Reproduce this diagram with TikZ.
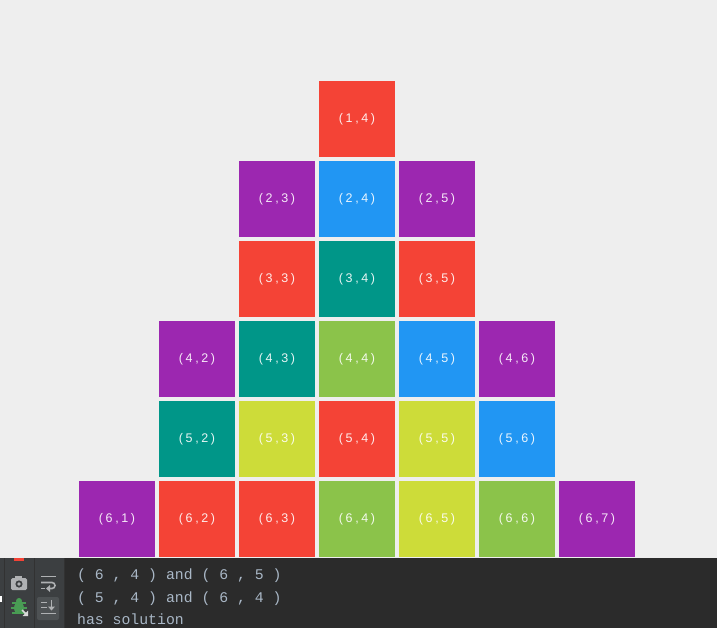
\documentclass[tikz,border=0pt]{standalone}
\usepackage{fontspec}
\newfontfamily\boxfont{Liberation Sans}
\newfontfamily\termfont{Liberation Mono}
\definecolor{bgc}{HTML}{EEEEEE}
\definecolor{cred}{HTML}{F44336}
\definecolor{cpur}{HTML}{9C27B0}
\definecolor{cblu}{HTML}{2196F3}
\definecolor{ctea}{HTML}{009688}
\definecolor{cgrn}{HTML}{8BC34A}
\definecolor{clim}{HTML}{CDDC39}
\definecolor{term}{HTML}{2B2B2B}
\definecolor{tbar}{HTML}{3C3F41}
\definecolor{tsep}{HTML}{323232}
\definecolor{ttext}{HTML}{A9B7C6}
\definecolor{icon}{HTML}{AFB1B3}
\definecolor{bugc}{HTML}{499C54}
\definecolor{hilite}{HTML}{4E5254}
\newcommand{\cellsp}{\hspace{2.6pt}}
\tikzset{
  cell/.style={minimum width=76pt, minimum height=76pt, inner sep=0pt, draw=none,
    text=white, text opacity=0.9, font=\boxfont\fontsize{12.5}{14}\selectfont},
  termline/.style={anchor=base west, inner sep=0pt, text=ttext,
    font=\termfont\fontsize{14.8}{17}\selectfont},
  ico/.style={draw=icon, line width=1.6pt}
}
\begin{document}
\begin{tikzpicture}[x=1pt,y=-1pt]
\useasboundingbox (0,0) rectangle (717,628);
\fill[bgc] (0,0) rectangle (717,558);
\fill[term] (0,558) rectangle (717,628);
\fill[tbar] (0,558) rectangle (64,628);
\draw[tsep, line width=1pt] (4,558) -- (4,628);
\draw[tsep, line width=1pt] (34,558) -- (34,628);
\draw[tsep, line width=1pt] (64,558) -- (64,628);
\fill[cred] (14,558) rectangle (24,561);
\fill[white] (0,596) rectangle (2,602);
% cells
\foreach \r/\c/\col in {
  1/4/cred,
  2/3/cpur, 2/4/cblu, 2/5/cpur,
  3/3/cred, 3/4/ctea, 3/5/cred,
  4/2/cpur, 4/3/ctea, 4/4/cgrn, 4/5/cblu, 4/6/cpur,
  5/2/ctea, 5/3/clim, 5/4/cred, 5/5/clim, 5/6/cblu,
  6/1/cpur, 6/2/cred, 6/3/cred, 6/4/cgrn, 6/5/clim, 6/6/cgrn, 6/7/cpur}
{
  \node[cell, fill=\col] (n\r\c) at ({117+(\c-1)*80},{119+(\r-1)*80}) {(\cellsp\r\cellsp,\cellsp\c\cellsp)};
}
% terminal text
\node[termline] (t1) at (77,579) {( 6 , 4 ) and ( 6 , 5 )};
\node[termline] (t2) at (77,602) {( 5 , 4 ) and ( 6 , 4 )};
\node[termline] (t3) at (77,624) {has solution};
% camera icon
\fill[icon, rounded corners=1.5pt] (11,578) rectangle (27,590);
\fill[icon] (15,575.5) rectangle (22,579);
\fill[tbar] (19,584) circle (3.6);
\fill[icon] (19,584) circle (1.8);
% wrap icon
\draw[ico] (41,576.5) -- (56,576.5);
\draw[ico] (41,582.5) -- (52,582.5) arc (-90:90:3) -- (49,588.5);
\draw[ico] (41,588.5) -- (45,588.5);
\fill[icon] (46,588.5) -- (50,585) -- (50,592) -- cycle;
% bug icon
\fill[bugc] (19,608) ellipse (5 and 6);
\draw[bugc, line width=1.4pt] (12,603) -- (26,603) (11,608) -- (27,608) (12,613) -- (26,613);
\fill[bugc] (19,601) circle (3);
\draw[white!85!black, line width=1.6pt] (22,610) -- (27,615);
\fill[white!85!black] (28,616) -- (28,610.5) -- (22.5,616) -- cycle;
% scroll to end icon
\fill[hilite, rounded corners=2pt] (37,597) rectangle (59,620);
\draw[ico] (41,602.5) -- (47,602.5);
\draw[ico] (41,607.5) -- (47,607.5);
\draw[ico] (41,613.5) -- (56,613.5);
\draw[ico] (51.5,600) -- (51.5,608);
\fill[icon] (48,606.5) -- (55,606.5) -- (51.5,610.5) -- cycle;
\end{tikzpicture}
\end{document}
